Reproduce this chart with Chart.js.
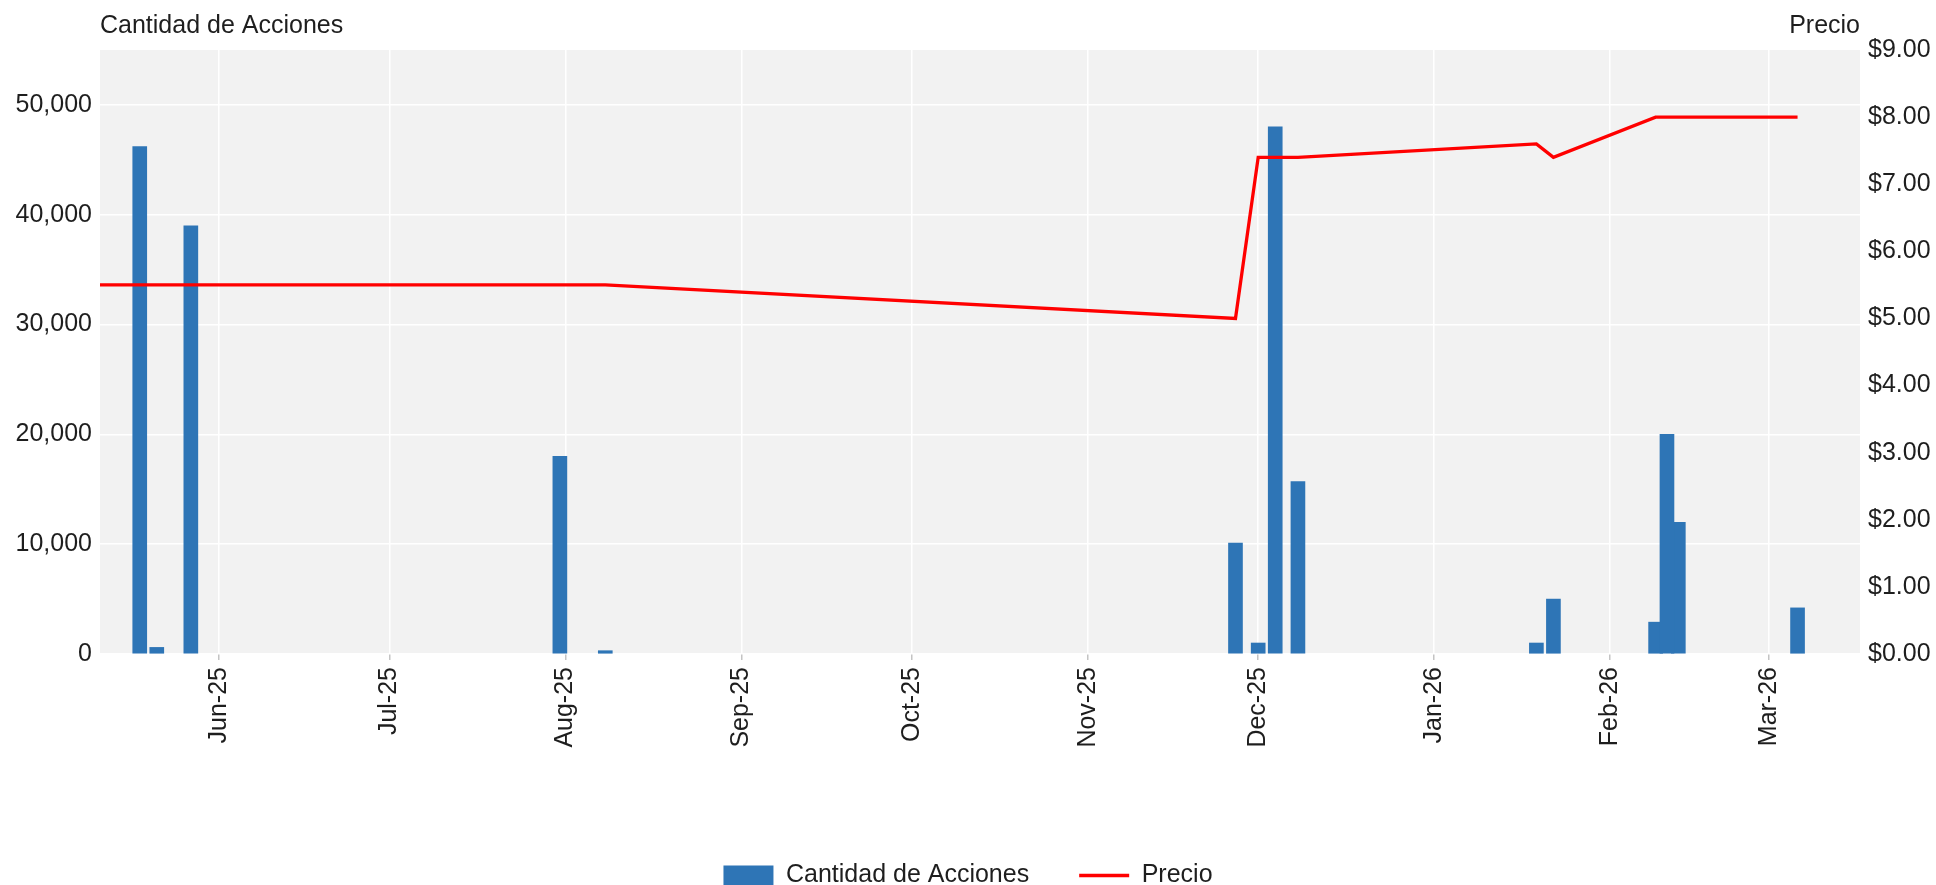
<!DOCTYPE html>
<html lang="es">
<head>
<meta charset="utf-8">
<title>Cantidad de Acciones y Precio</title>
<script src="https://cdn.jsdelivr.net/npm/chart.js@4.4.1/dist/chart.umd.min.js"></script>
<style>
    html, body { margin: 0; padding: 0; background: #ffffff; }
    #chart-wrap { width: 1936px; height: 885px; position: relative; }
</style>
</head>
<body>
<div id="chart-wrap"><canvas id="accionesChart"></canvas></div>
<script>
// --- DATA ---
const tradeDates = ['2025-05-18', '2025-05-21', '2025-05-27', '2025-07-31', '2025-08-08',
    '2025-11-27', '2025-12-01', '2025-12-04', '2025-12-08', '2026-01-19', '2026-01-22',
    '2026-02-09', '2026-02-13', '2026-02-11', '2026-03-06'];
const shareCounts = [46200, 600, 39000, 18000, 300,
    10100, 1000, 48000, 15700, 1000, 5000,
    2900, 12000, 20000, 4200];

const priceDates = ['2025-05-11', '2025-05-18', '2025-05-21', '2025-05-27', '2025-07-31', '2025-08-08',
    '2025-11-27', '2025-12-01', '2025-12-04', '2025-12-08', '2026-01-19', '2026-01-22',
    '2026-02-09', '2026-02-11', '2026-02-13', '2026-03-06'];
const prices = [5.50, 5.50, 5.50, 5.50, 5.50, 5.50,
    5.00, 7.40, 7.40, 7.40, 7.60, 7.40,
    8.00, 8.00, 8.00, 8.00];

const monthTicks = ['2025-06-01', '2025-07-01', '2025-08-01', '2025-09-01', '2025-10-01',
    '2025-11-01', '2025-12-01', '2026-01-01', '2026-02-01', '2026-03-01'];
const monthLabels = ['Jun-25', 'Jul-25', 'Aug-25', 'Sep-25', 'Oct-25',
    'Nov-25', 'Dec-25', 'Jan-26', 'Feb-26', 'Mar-26'];
const shareTicks = [0, 10000, 20000, 30000, 40000, 50000];
const priceTicks = [0, 1, 2, 3, 4, 5, 6, 7, 8, 9];

const xStart = '2025-05-11';
const xEnd = '2026-03-17';
const leftAxisTitle = 'Cantidad de Acciones';
const rightAxisTitle = 'Precio';

// --- HELPERS ---
const FONT = "'Liberation Sans', Arial, sans-serif";
const toTime = d => Date.parse(d);

Chart.defaults.font.family = FONT;
Chart.defaults.font.size = 25;
Chart.defaults.color = '#1e1e1e';

// grey plot panel behind the data
const plotBackground = {
    id: 'plotBackground',
    beforeDraw(chart) {
        const { ctx, chartArea } = chart;
        ctx.save();
        ctx.fillStyle = '#f2f2f2';
        ctx.fillRect(chartArea.left, chartArea.top, chartArea.right - chartArea.left, chartArea.bottom - chartArea.top);
        ctx.restore();
    }
};

// horizontal axis names above each y axis
const axisTitles = {
    id: 'axisTitles',
    afterDraw(chart) {
        const { ctx, chartArea } = chart;
        ctx.save();
        ctx.font = `25px ${FONT}`;
        ctx.fillStyle = '#1e1e1e';
        ctx.textBaseline = 'alphabetic';
        ctx.textAlign = 'left';
        ctx.fillText(leftAxisTitle, chartArea.left, chartArea.top - 17);
        ctx.textAlign = 'right';
        ctx.fillText(rightAxisTitle, chartArea.right, chartArea.top - 17);
        ctx.restore();
    }
};

// --- CHART ---
const canvas = document.getElementById('accionesChart');

new Chart(canvas, {
    type: 'bar',
    data: {
        datasets: [{
            type: 'bar',
            label: 'Cantidad de Acciones',
            data: tradeDates.map((d, i) => ({ x: toTime(d), y: shareCounts[i] })),
            backgroundColor: '#2e75b6',
            borderWidth: 0,
            barThickness: 14,
            pointStyle: 'rect',
            yAxisID: 'y',
            order: 2
        }, {
            type: 'line',
            label: 'Precio',
            data: priceDates.map((d, i) => ({ x: toTime(d), y: prices[i] })),
            borderColor: '#ff0000',
            borderWidth: 3.3,
            tension: 0,
            pointRadius: 0,
            pointHoverRadius: 0,
            pointStyle: 'line',
            pointBorderColor: '#ff0000',
            pointBorderWidth: 3.3,
            yAxisID: 'y1',
            order: 1
        }]
    },
    options: {
        responsive: true,
        maintainAspectRatio: false,
        animation: false,
        layout: { padding: { top: 50, bottom: -13 } },
        plugins: {
            tooltip: { enabled: false },
            legend: {
                position: 'bottom',
                labels: {
                    usePointStyle: true,
                    pointStyleWidth: 50,
                    boxHeight: 20,
                    padding: 50,
                    font: { size: 25 },
                    color: '#1e1e1e',
                    sort: (a, b) => a.datasetIndex - b.datasetIndex
                }
            }
        },
        scales: {
            x: {
                type: 'linear',
                min: toTime(xStart),
                max: toTime(xEnd),
                offset: false,
                border: { display: false },
                grid: {
                    color: '#ffffff',
                    lineWidth: 1.5,
                    offset: false,
                    drawTicks: true,
                    tickLength: 6,
                    tickColor: '#c4c4c4',
                    tickWidth: 1.5
                },
                ticks: {
                    minRotation: 90,
                    maxRotation: 90,
                    autoSkip: false,
                    padding: 7,
                    callback: (value, index) => monthLabels[index]
                },
                afterBuildTicks: scale => {
                    scale.ticks = monthTicks.map(d => ({ value: toTime(d) }));
                },
                afterFit: scale => { scale.height = 159; }
            },
            y: {
                position: 'left',
                min: 0,
                max: 55000,
                border: { display: false },
                grid: { color: '#ffffff', lineWidth: 1.5, drawTicks: false },
                ticks: {
                    padding: 8,
                    callback: value => value.toLocaleString('en-US')
                },
                afterBuildTicks: scale => {
                    scale.ticks = shareTicks.map(v => ({ value: v }));
                },
                afterFit: scale => { scale.width = 100; }
            },
            y1: {
                position: 'right',
                min: 0,
                max: 9,
                border: { display: false },
                grid: { display: false, drawTicks: false },
                ticks: {
                    padding: 8,
                    callback: value => '$' + Number(value).toFixed(2)
                },
                afterBuildTicks: scale => {
                    scale.ticks = priceTicks.map(v => ({ value: v }));
                },
                afterFit: scale => { scale.width = 76; }
            }
        }
    },
    plugins: [plotBackground, axisTitles]
});
</script>
</body>
</html>
